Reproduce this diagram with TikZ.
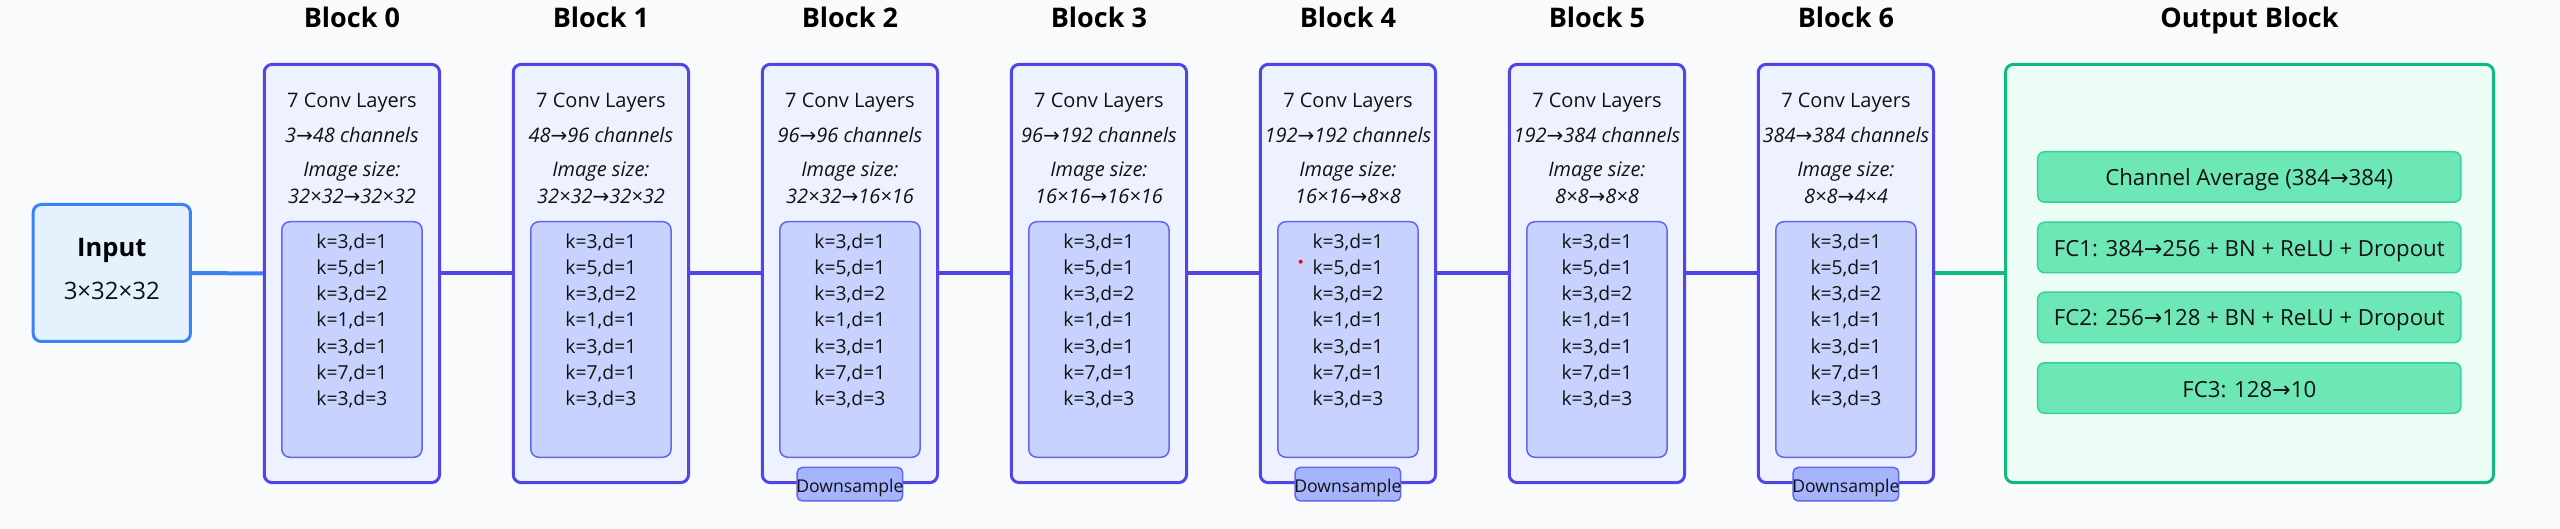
\documentclass[tikz,border=0pt]{standalone}
\usepackage{fontspec}
\setmainfont{Open Sans}
\newfontfamily\dvfont{DejaVu Sans}
\newcommand{\myarr}{{\dvfont →}}
\usetikzlibrary{backgrounds}
\definecolor{bg}{HTML}{F8FAFC}
\definecolor{indB}{HTML}{4F46E5}
\definecolor{indF}{HTML}{EEF2FF}
\definecolor{inB}{HTML}{6366F1}
\definecolor{inF}{HTML}{C7D2FE}
\definecolor{dsF}{HTML}{A5B4FC}
\definecolor{blueB}{HTML}{3B82F6}
\definecolor{blueF}{HTML}{E3F2FD}
\definecolor{grnB}{HTML}{10B981}
\definecolor{grnF}{HTML}{ECFDF5}
\definecolor{grnBox}{HTML}{6EE7B7}
\definecolor{grnBoxB}{HTML}{34D399}
\definecolor{txtc}{HTML}{111111}
\begin{document}
\begin{tikzpicture}[x=1pt,y=-1pt,
  lbl/.style={inner sep=0pt, anchor=base, text=txtc},
  ttl/.style={lbl, text=black, font=\fontsize{27}{30}\selectfont\bfseries},
  txt/.style={lbl, font=\fontsize{20}{24}\selectfont},
  itx/.style={lbl, font=\fontsize{20}{24}\selectfont\itshape},
  ktx/.style={lbl, font=\fontsize{19.3}{23}\selectfont},
  dstx/.style={lbl, font=\fontsize{17.6}{20}\selectfont},
  gtx/.style={lbl, font=\fontsize{22.2}{26}\selectfont},
  blk/.style={draw=indB, line width=3pt, fill=indF, rounded corners=8pt, minimum width=175.3pt, minimum height=418.3pt, inner sep=0pt},
  inr/.style={draw=inB, line width=1.5pt, fill=inF, rounded corners=8pt, minimum width=140.2pt, minimum height=235.5pt, inner sep=0pt},
  dsbox/.style={draw=inB, line width=1.5pt, fill=dsF, rounded corners=5pt, minimum width=105.5pt, minimum height=33.5pt, inner sep=0pt},
  inpbox/.style={draw=blueB, line width=3pt, fill=blueF, rounded corners=8pt, minimum width=157.3pt, minimum height=137pt, inner sep=0pt},
  outbox/.style={draw=grnB, line width=3pt, fill=grnF, rounded corners=8pt, minimum width=488pt, minimum height=418.3pt, inner sep=0pt},
  gbox/.style={draw=grnBoxB, line width=1.5pt, fill=grnBox, rounded corners=7pt, minimum width=423.2pt, minimum height=50.5pt, inner sep=0pt},
  conn/.style={line width=4pt}
]
% input
\node[inpbox] (inp) at (111.8,273) {};
\node[lbl, font=\fontsize{25.5}{28}\selectfont\bfseries, text=black] (inpT) at (111.8,256.7) {Input};
\node[lbl, font=\fontsize{24}{28}\selectfont] (inpS) at (111.8,300) {3×32×32};

% blocks
\foreach \i/\a/\b/\s/\t/\d in {0/3/48/32×32/32×32/0, 1/48/96/32×32/32×32/0, 2/96/96/32×32/16×16/1, 3/96/192/16×16/16×16/0, 4/192/192/16×16/8×8/1, 5/192/384/8×8/8×8/0, 6/384/384/8×8/4×4/1}{
  \pgfmathsetmacro\cx{351.9+249*\i}
  \node[blk] (b\i) at (\cx,273.5) {};
  \node[ttl] (t\i) at (\cx,27.7) {Block \i};
  \node[txt] (c\i) at (\cx,107.3) {7 Conv Layers};
  \node[itx] (ch\i) at (\cx,142.7) {\a\myarr\b{} channels};
  \node[itx] (is\i) at (\cx,176.7) {Image size:};
  \node[itx] (sz\i) at (\cx,203.3) {\s\myarr\t};
  \node[inr] (in\i) at (\cx,339.5) {};
  \foreach \k [count=\j from 0] in {{k=3,d=1},{k=5,d=1},{k=3,d=2},{k=1,d=1},{k=3,d=1},{k=7,d=1},{k=3,d=3}}{
    \node[ktx] (k\i-\j) at (\cx,248.3+26.2*\j) {\k};
  }
  \ifnum\d=1
    \node[dsbox] (ds\i) at (\cx,484.2) {};
    \node[dstx] (dst\i) at (\cx,492.7) {Downsample};
  \fi
}
\node[circle, fill=red, inner sep=0pt, minimum size=4pt] (dot) at (1300.7,261.7) {};

% output
\node[outbox] (out) at (2249.5,273.5) {};
\node[ttl] (tout) at (2249.5,27.7) {Output Block};
\node[gbox] (g1) at (2249.3,177) {};
\node[gbox] (g2) at (2249.3,247.5) {};
\node[gbox] (g3) at (2249.3,317.5) {};
\node[gbox] (g4) at (2249.3,388) {};
\node[gtx] (g1t) at (2249.3,186) {Channel Average (384\myarr384)};
\node[gtx] (g2t) at (2249.3,256.7) {FC1: 384\myarr256 + BN + ReLU + Dropout};
\node[gtx] (g3t) at (2249.3,326) {FC2: 256\myarr128 + BN + ReLU + Dropout};
\node[gtx] (g4t) at (2249.3,397.3) {FC3: 128\myarr10};

\begin{scope}[on background layer]
\fill[bg] (0,0) rectangle (2560,529);
\draw[conn, blueB] (inp.east) -- (b0.west);
\foreach \i [evaluate=\i as \n using int(\i+1)] in {0,...,5}{
  \draw[conn, indB] (b\i.east) -- (b\n.west);
}
\draw[conn, grnB] (b6.east) -- (out.west);
\end{scope}
\useasboundingbox (0,0) rectangle (2560,529);
\end{tikzpicture}
\end{document}
